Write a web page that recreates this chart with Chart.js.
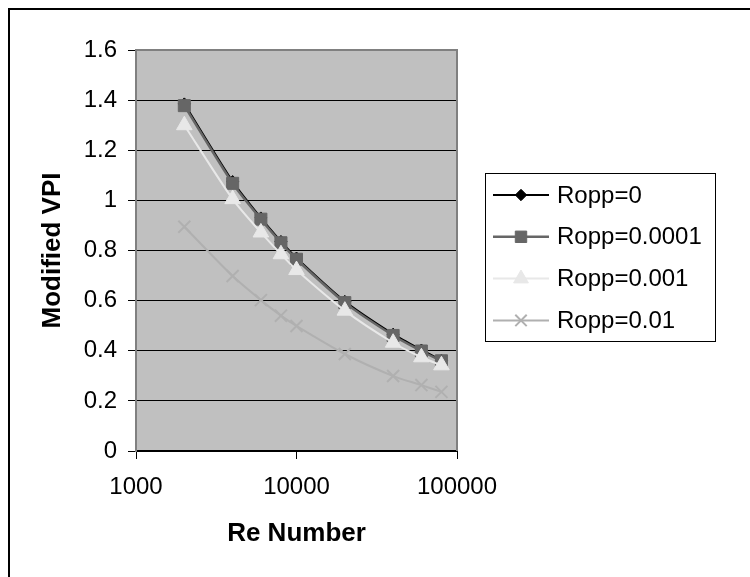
<!DOCTYPE html>
<html><head><meta charset="utf-8">
<script src="https://cdn.jsdelivr.net/npm/chart.js@4/dist/chart.umd.min.js"></script>
<style>html,body{margin:0;padding:0;background:#fff;} #wrap{width:750px;height:577px;position:relative;}</style>
</head><body><div id="wrap"><canvas id="c" width="750" height="577"></canvas></div>
<script>
const reNumbers = [2000, 4000, 6000, 8000, 10000, 20000, 40000, 60000, 80000];
const ropp0     = [1.385, 1.075, 0.930, 0.836, 0.770, 0.597, 0.466, 0.403, 0.362];
const ropp0001  = [1.378, 1.068, 0.925, 0.831, 0.765, 0.592, 0.461, 0.399, 0.360];
const ropp001   = [1.300, 1.005, 0.872, 0.785, 0.722, 0.560, 0.432, 0.374, 0.342];
const ropp01    = [0.895, 0.698, 0.602, 0.540, 0.499, 0.387, 0.299, 0.263, 0.236];
const seriesLabels = ['Ropp=0', 'Ropp=0.0001', 'Ropp=0.001', 'Ropp=0.01'];
const xTickValues = [1000, 10000, 100000];
const yTickValues = [0, 0.2, 0.4, 0.6, 0.8, 1, 1.2, 1.4, 1.6];
const xTitle = 'Re Number';
const yTitle = 'Modified VPI';

const FONT = '"Liberation Sans", Arial, sans-serif';
const toPts = arr => arr.map((v, i) => ({x: reNumbers[i], y: v}));

const styles = [
  {color: '#000000', point: 'rectRot', r: 6, lw: 2, pbw: 1, order: 3},
  {color: '#666666', point: 'rect', r: 8.5, lw: 2.5, pbw: 1, order: 2},
  {color: '#e8e8e8', point: 'triangle', r: 9, lw: 2, pbw: 1, order: 1},
  {color: '#b0b0b0', point: 'crossRot', r: 8.5, lw: 2, pbw: 2, order: 0}
];
const seriesData = [ropp0, ropp0001, ropp001, ropp01];

const datasets = seriesData.map((d, i) => ({
  label: seriesLabels[i],
  data: toPts(d),
  borderColor: styles[i].color,
  backgroundColor: styles[i].color,
  borderWidth: styles[i].lw,
  pointStyle: styles[i].point,
  pointRadius: styles[i].r,
  pointBorderWidth: styles[i].pbw,
  pointBorderColor: styles[i].color,
  pointBackgroundColor: styles[i].color,
  tension: 0.25,
  order: styles[i].order
}));

const decor = {
  id: 'decor',
  beforeDraw(chart) {
    const {ctx, chartArea: a} = chart;
    ctx.save();
    ctx.fillStyle = '#c0c0c0';
    ctx.fillRect(a.left, a.top, a.right - a.left, a.bottom - a.top);
    ctx.restore();
  },
  beforeDatasetsDraw(chart) {
    const {ctx, chartArea: a} = chart;
    ctx.save();
    ctx.strokeStyle = '#808080';
    ctx.lineWidth = 2;
    ctx.beginPath();
    ctx.moveTo(a.left, a.top);
    ctx.lineTo(a.right, a.top);
    ctx.lineTo(a.right, a.bottom);
    ctx.stroke();
    ctx.restore();
  },
  afterDraw(chart) {
    const ctx = chart.ctx;
    ctx.save();
    ctx.strokeStyle = '#000';
    ctx.lineWidth = 2;
    ctx.beginPath();
    ctx.moveTo(9, 577);
    ctx.lineTo(9, 9);
    ctx.lineTo(750, 9);
    ctx.stroke();
    const L = {x: 485.5, y: 173.5, w: 230, h: 168};
    ctx.fillStyle = '#fff';
    ctx.fillRect(L.x, L.y, L.w, L.h);
    ctx.strokeStyle = '#000';
    ctx.lineWidth = 1;
    ctx.strokeRect(L.x, L.y, L.w, L.h);
    const rowY0 = 195, dy = 41.8;
    chart.data.datasets.forEach((ds, i) => {
      const y = rowY0 + i * dy;
      ctx.strokeStyle = ds.borderColor;
      ctx.lineWidth = ds.borderWidth;
      ctx.beginPath();
      ctx.moveTo(493, y);
      ctx.lineTo(549, y);
      ctx.stroke();
      ctx.fillStyle = ds.pointBackgroundColor;
      ctx.strokeStyle = ds.pointBorderColor;
      ctx.lineWidth = ds.pointBorderWidth;
      Chart.helpers.drawPoint(ctx, {pointStyle: ds.pointStyle, radius: ds.pointRadius * 0.95, rotation: 0, borderWidth: ds.pointBorderWidth}, 521, y);
      ctx.fillStyle = '#000';
      ctx.font = '24px ' + FONT;
      ctx.textAlign = 'left';
      ctx.textBaseline = 'middle';
      ctx.fillText(ds.label, 557, y + 1);
    });
    ctx.restore();
  }
};

new Chart(document.getElementById('c'), {
  type: 'line',
  data: {datasets},
  options: {
    responsive: false,
    animation: false,
    events: [],
    devicePixelRatio: 1,
    layout: {padding: {left: 33, top: 50, right: 293, bottom: 24}},
    plugins: {legend: {display: false}, tooltip: {enabled: false}},
    scales: {
      x: {
        type: 'logarithmic',
        min: 1000, max: 100000,
        afterBuildTicks: s => { s.ticks = xTickValues.map(v => ({value: v})); },
        afterFit: s => { s.height = 102; },
        ticks: {callback: v => String(v), color: '#000', font: {family: FONT, size: 24}, padding: 14, maxRotation: 0, autoSkip: false},
        grid: {drawOnChartArea: false, drawTicks: true, tickLength: 8, tickColor: '#000', tickWidth: 1},
        border: {color: '#000', width: 2},
        title: {display: true, text: xTitle, color: '#000', font: {family: FONT, size: 26, weight: 'bold'}, padding: {top: 4, bottom: 4}}
      },
      y: {
        type: 'linear',
        min: 0, max: 1.6,
        afterBuildTicks: s => { s.ticks = yTickValues.map(v => ({value: v})); },
        afterFit: s => { s.width = 103; },
        ticks: {callback: v => String(v), color: '#000', font: {family: FONT, size: 24}, padding: 11, autoSkip: false},
        grid: {color: c => (c.tick && c.tick.value === 1.6) ? '#808080' : '#000', lineWidth: 1, tickLength: 8, tickColor: '#000'},
        border: {color: '#808080', width: 2},
        title: {display: true, text: yTitle, color: '#000', font: {family: FONT, size: 26, weight: 'bold'}, padding: {top: 4, bottom: 4}}
      }
    }
  },
  plugins: [decor]
});
</script></body></html>
